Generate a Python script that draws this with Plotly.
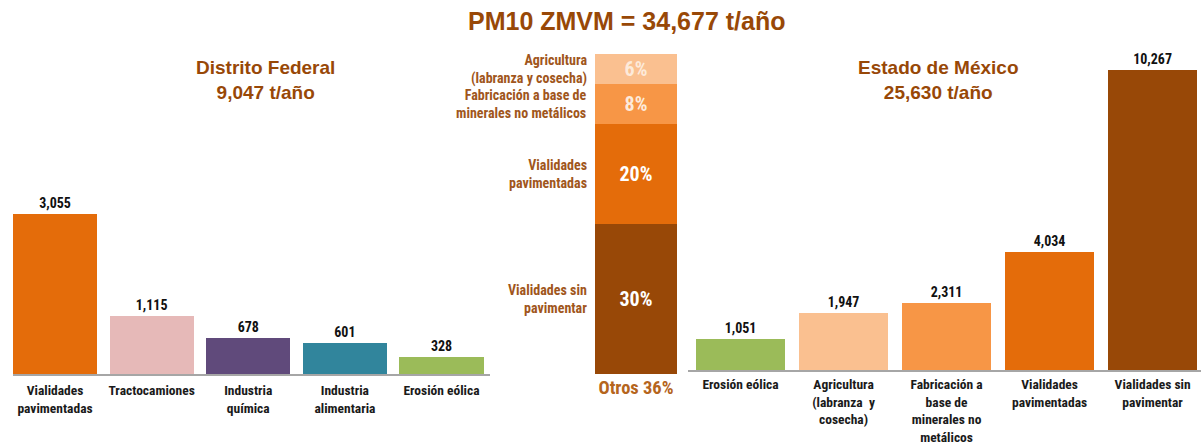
import plotly.graph_objects as go

# ---- data ----
df_categories = ["Vialidades<br>pavimentadas", "Tractocamiones", "Industria<br>química",
                 "Industria<br>alimentaria", "Erosión eólica"]
df_values = [3055, 1115, 678, 601, 328]
df_colors = ["#E46C0A", "#E6B9B8", "#604A7B", "#31859C", "#9BBB59"]

mx_categories = ["Erosión eólica", "Agricultura<br>(labranza  y<br>cosecha)",
                 "Fabricación a<br>base de<br>minerales no<br>metálicos",
                 "Vialidades<br>pavimentadas", "Vialidades sin<br>pavimentar"]
mx_values = [1051, 1947, 2311, 4034, 10267]
mx_colors = ["#9BBB59", "#FAC090", "#F79646", "#E46C0A", "#984807"]

st_names = ["Vialidades sin<br>pavimentar", "Vialidades<br>pavimentadas",
            "Fabricación a base de<br>minerales no metálicos", "Agricultura<br>(labranza y cosecha)"]
st_values = [30, 20, 8, 6]
st_colors = ["#984807", "#E46C0A", "#F79646", "#FAC090"]
st_textcolors = ["#FFFFFF", "#FFFFFF", "#FDEADA", "#FDEADA"]
st_category = "Otros 36%"

title_main = "PM10 ZMVM = 34,677 t/año"
title_df = "Distrito Federal<br>9,047 t/año"
title_mx = "Estado de México<br>25,630 t/año"

W, H = 1201, 446
NARROW = "Liberation Sans Narrow, Arial Narrow, Roboto Condensed, Liberation Sans, Arial"
WIDE = "Liberation Sans, Arial, sans-serif"
BROWN = "#984807"
LABEL_BROWN = "#A0561C"

fig = go.Figure()

fig.add_trace(go.Bar(
    x=df_categories, y=df_values, marker=dict(color=df_colors, line=dict(width=0)),
    texttemplate="%{y:,}", textposition="outside", cliponaxis=False,
    textfont=dict(family=NARROW, size=14, color="#111111", weight="bold"),
    xaxis="x", yaxis="y", showlegend=False, hoverinfo="x+y"))

for name, val, col, tcol in zip(st_names, st_values, st_colors, st_textcolors):
    fig.add_trace(go.Bar(
        x=[st_category], y=[val], name=name, marker=dict(color=col, line=dict(width=0)),
        text=[f"{val}%"], textposition="inside", insidetextanchor="middle", width=1.0,
        textfont=dict(family=NARROW, size=20, color=tcol, weight="bold"),
        xaxis="x2", yaxis="y2", showlegend=False))

fig.add_trace(go.Bar(
    x=mx_categories, y=mx_values, marker=dict(color=mx_colors, line=dict(width=0)),
    texttemplate="%{y:,}", textposition="outside", cliponaxis=False,
    textfont=dict(family=NARROW, size=14, color="#111111", weight="bold"),
    xaxis="x3", yaxis="y3", showlegend=False, hoverinfo="x+y"))

y_bot_l = 1 - 374 / H
y_bot_r = 1 - 370 / H
y_top = 1 - 40 / H

tickfont = dict(family=NARROW, size=13.5, color="#1a1a1a", weight="bold")

fig.update_layout(
    width=W, height=H, margin=dict(l=0, r=0, t=0, b=0),
    paper_bgcolor="white", plot_bgcolor="rgba(0,0,0,0)",
    barmode="stack", bargap=0.13,
    xaxis=dict(domain=[13 / W, 490 / W], range=[-0.435, 4.502], showgrid=False,
               showline=True, linecolor="#A6A6A6", linewidth=1.5, ticks="",
               ticklabelstandoff=3,
               tickfont=tickfont, anchor="y", fixedrange=True),
    yaxis=dict(domain=[y_bot_l, y_top], range=[0, 334 / 0.0524], visible=False,
               anchor="x", fixedrange=True),
    xaxis2=dict(domain=[595 / W, 677 / W], range=[-0.5, 0.5], showgrid=False,
                showline=False, ticks="", anchor="y2", fixedrange=True,
                tickfont=dict(family=NARROW, size=18.5, color="#B5651D", weight="bold")),
    yaxis2=dict(domain=[y_bot_l, y_top], range=[0, 334 / 5], visible=False,
                anchor="x2", fixedrange=True),
    xaxis3=dict(domain=[688 / W, 1.0], range=[-0.51, 4.47], showgrid=False,
                showline=True, linecolor="#A6A6A6", linewidth=1.5, ticks="",
                ticklabelstandoff=1,
                tickfont=tickfont, anchor="y3", fixedrange=True),
    yaxis3=dict(domain=[y_bot_r, y_top], range=[0, 330 / 0.0292], visible=False,
                anchor="x3", fixedrange=True),
)

annotations = [
    dict(text=f"<b>{title_main}</b>", x=626 / W, y=1 - 21 / H, xref="paper", yref="paper",
         showarrow=False, font=dict(family=WIDE, size=25, color=BROWN), xanchor="center", yanchor="middle"),
    dict(text=f"<b>{title_df}</b>", x=265 / W, y=1 - 80 / H, xref="paper", yref="paper",
         showarrow=False, font=dict(family=WIDE, size=19, color=BROWN), xanchor="center", yanchor="middle"),
    dict(text=f"<b>{title_mx}</b>", x=939 / W, y=1 - 80 / H, xref="paper", yref="paper",
         showarrow=False, font=dict(family=WIDE, size=19, color=BROWN), xanchor="center", yanchor="middle"),
]

cum = 0
for name, val in zip(st_names, st_values):
    mid = cum + val / 2
    cum += val
    annotations.append(dict(
        text=name, x=589 / W, y=mid, xref="paper", yref="y2", showarrow=False,
        xanchor="right", yanchor="middle", align="right",
        font=dict(family=NARROW, size=14, color=LABEL_BROWN, weight="bold")))

fig.update_layout(annotations=annotations)

fig.write_html("out.html", config={"displayModeBar": False},
               post_script="document.body.style.margin='0';")
